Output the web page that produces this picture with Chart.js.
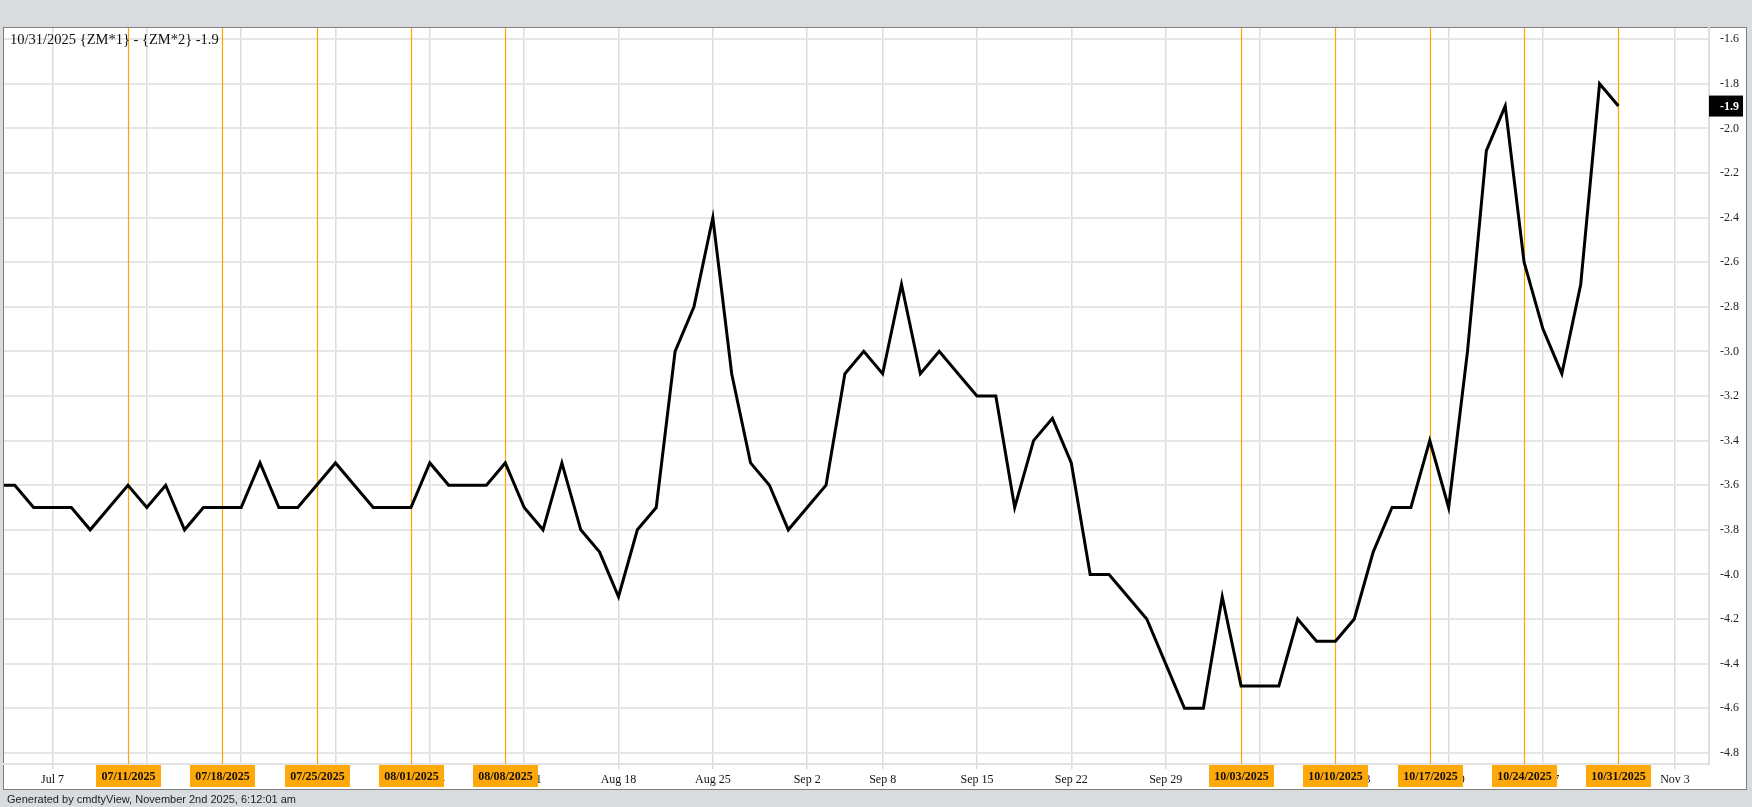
<!DOCTYPE html>
<html>
<head>
<meta charset="utf-8">
<script src="https://cdn.jsdelivr.net/npm/chart.js@4.4.1/dist/chart.umd.min.js"></script>
<style>
    html, body { margin: 0; padding: 0; background: #d9dcdf; }
    canvas { display: block; }
</style>
</head>
<body>
<canvas id="spread-chart" width="1752" height="807"></canvas>
<script>
// trading days, Jul 1 .. Oct 31 2025
const dates = [
    '2025-07-01', '2025-07-02', '2025-07-03', '2025-07-07', '2025-07-08', '2025-07-09', '2025-07-10', '2025-07-11',
    '2025-07-14', '2025-07-15', '2025-07-16', '2025-07-17', '2025-07-18', '2025-07-21', '2025-07-22', '2025-07-23',
    '2025-07-24', '2025-07-25', '2025-07-28', '2025-07-29', '2025-07-30', '2025-07-31',
    '2025-08-01', '2025-08-04', '2025-08-05', '2025-08-06', '2025-08-07', '2025-08-08', '2025-08-11', '2025-08-12',
    '2025-08-13', '2025-08-14', '2025-08-15', '2025-08-18', '2025-08-19', '2025-08-20', '2025-08-21', '2025-08-22',
    '2025-08-25', '2025-08-26', '2025-08-27', '2025-08-28', '2025-08-29',
    '2025-09-02', '2025-09-03', '2025-09-04', '2025-09-05', '2025-09-08', '2025-09-09', '2025-09-10', '2025-09-11',
    '2025-09-12', '2025-09-15', '2025-09-16', '2025-09-17', '2025-09-18', '2025-09-19', '2025-09-22', '2025-09-23',
    '2025-09-24', '2025-09-25', '2025-09-26', '2025-09-29', '2025-09-30',
    '2025-10-01', '2025-10-02', '2025-10-03', '2025-10-06', '2025-10-07', '2025-10-08', '2025-10-09', '2025-10-10',
    '2025-10-13', '2025-10-14', '2025-10-15', '2025-10-16', '2025-10-17', '2025-10-20', '2025-10-21', '2025-10-22',
    '2025-10-23', '2025-10-24', '2025-10-27', '2025-10-28', '2025-10-29', '2025-10-30', '2025-10-31'
];

const spreadValues = [
    -3.6, -3.6, -3.7, -3.7, -3.7, -3.8, -3.7, -3.6,
    -3.7, -3.6, -3.8, -3.7, -3.7, -3.7, -3.5, -3.7,
    -3.7, -3.6, -3.5, -3.6, -3.7, -3.7,
    -3.7, -3.5, -3.6, -3.6, -3.6, -3.5, -3.7, -3.8,
    -3.5, -3.8, -3.9, -4.1, -3.8, -3.7, -3.0, -2.8,
    -2.4, -3.1, -3.5, -3.6, -3.8,
    -3.7, -3.6, -3.1, -3.0, -3.1, -2.7, -3.1, -3.0,
    -3.1, -3.2, -3.2, -3.7, -3.4, -3.3, -3.5, -4.0,
    -4.0, -4.1, -4.2, -4.4, -4.6,
    -4.6, -4.1, -4.5, -4.5, -4.5, -4.2, -4.3, -4.3,
    -4.2, -3.9, -3.7, -3.7, -3.4, -3.7, -3.0, -2.1,
    -1.9, -2.6, -2.9, -3.1, -2.7, -1.8, -1.9
];

// weekly axis labels, positioned on the trading-day index (Nov 3 lies past the data)
const tickIndex = [3, 8, 13, 18, 23, 28, 33, 38, 43, 47, 52, 57, 62, 67, 72, 77, 82, 89];
const tickLabels = ['Jul 7', 'Jul 14', 'Jul 21', 'Jul 28', 'Aug 4', 'Aug 11', 'Aug 18', 'Aug 25', 'Sep 2',
    'Sep 8', 'Sep 15', 'Sep 22', 'Sep 29', 'Oct 6', 'Oct 13', 'Oct 20', 'Oct 27', 'Nov 3'];

const markerDates = ['2025-07-11', '2025-07-18', '2025-07-25', '2025-08-01', '2025-08-08',
    '2025-10-03', '2025-10-10', '2025-10-17', '2025-10-24', '2025-10-31'];
const markerLabels = ['07/11/2025', '07/18/2025', '07/25/2025', '08/01/2025', '08/08/2025',
    '10/03/2025', '10/10/2025', '10/17/2025', '10/24/2025', '10/31/2025'];

const chartTitle = '10/31/2025 {ZM*1} - {ZM*2} -1.9';
const footerText = 'Generated by cmdtyView, November 2nd 2025, 6:12:01 am';

const SERIF = "'Liberation Serif', 'Times New Roman', serif";

const framePlugin = {
    id: 'frame',
    beforeDraw(chart) {
        const ctx = chart.ctx;
        ctx.save();
        ctx.fillStyle = '#d9dcdf';
        ctx.fillRect(0, 0, chart.width, chart.height);
        ctx.fillStyle = '#ffffff';
        ctx.fillRect(3, 27, 1744, 763);
        ctx.strokeStyle = '#7f7f7f';
        ctx.lineWidth = 1;
        ctx.strokeRect(3.5, 27.5, 1743, 762);
        ctx.restore();
    },
    beforeDatasetsDraw(chart) {
        const ctx = chart.ctx;
        const area = chart.chartArea;
        ctx.save();
        ctx.strokeStyle = '#ffa500';
        ctx.lineWidth = 1.2;
        markerDates.forEach(d => {
            const x = Math.round(chart.scales.x.getPixelForValue(dates.indexOf(d))) + 0.5;
            ctx.beginPath();
            ctx.moveTo(x, area.top);
            ctx.lineTo(x, area.bottom);
            ctx.stroke();
        });
        ctx.restore();
    },
    afterDraw(chart) {
        const ctx = chart.ctx;
        const area = chart.chartArea;
        ctx.save();

        // date flags on the x axis
        ctx.font = 'bold 12px ' + SERIF;
        ctx.textAlign = 'center';
        ctx.textBaseline = 'middle';
        markerDates.forEach((d, i) => {
            const x = Math.round(chart.scales.x.getPixelForValue(dates.indexOf(d)));
            ctx.fillStyle = '#ffa80a';
            ctx.fillRect(x - 32, area.bottom + 1, 65, 22);
            ctx.fillStyle = '#111111';
            ctx.fillText(markerLabels[i], x + 0.5, area.bottom + 12.5);
        });

        // last value box
        const last = spreadValues[spreadValues.length - 1];
        const y = chart.scales.y.getPixelForValue(last);
        ctx.fillStyle = '#000000';
        ctx.fillRect(area.right, y - 10.5, 34, 21);
        ctx.fillStyle = '#ffffff';
        ctx.textAlign = 'left';
        ctx.fillText(last.toFixed(1), area.right + 11, y + 0.5);

        // title
        ctx.font = '14.5px ' + SERIF;
        ctx.fillStyle = '#111111';
        ctx.fillText(chartTitle, 10, 40);

        // footer
        ctx.font = "11px 'Liberation Sans', Arial, sans-serif";
        ctx.fillStyle = '#222222';
        ctx.fillText(footerText, 7, 800);
        ctx.restore();
    }
};

function renderSpreadChart() {
    new Chart(document.getElementById('spread-chart'), {
        type: 'line',
        data: {
            datasets: [{
                label: 'ZM*1 - ZM*2',
                data: spreadValues.map((v, i) => ({x: i, y: v})),
                borderColor: '#000000',
                borderWidth: 3,
                pointRadius: 0,
                tension: 0,
                clip: 0
            }]
        },
        options: {
            responsive: false,
            animation: false,
            events: [],
            layout: {
                padding: {left: 4, top: 28, right: 5, bottom: 17}
            },
            plugins: {
                legend: {display: false},
                tooltip: {enabled: false}
            },
            scales: {
                x: {
                    type: 'linear',
                    min: 0.43,
                    max: 90.8,
                    afterFit: scale => { scale.height = 26; },
                    afterBuildTicks: scale => {
                        scale.ticks = tickIndex.map(v => ({value: v}));
                    },
                    grid: {
                        color: '#dcdcdc',
                        lineWidth: 1.5,
                        drawTicks: true,
                        tickLength: 5
                    },
                    border: {color: '#e2e2e2', width: 2},
                    ticks: {
                        autoSkip: false,
                        maxRotation: 0,
                        padding: 4,
                        color: '#111111',
                        font: {family: SERIF, size: 12},
                        callback: value => tickLabels[tickIndex.indexOf(value)]
                    }
                },
                y: {
                    position: 'right',
                    min: -4.85,
                    max: -1.55,
                    afterFit: scale => { scale.width = 38; },
                    grid: {
                        color: '#e6e6e6',
                        lineWidth: 2,
                        drawTicks: false
                    },
                    border: {color: '#dedede', width: 2},
                    ticks: {
                        stepSize: 0.2,
                        includeBounds: false,
                        padding: 11,
                        color: '#222222',
                        font: {family: SERIF, size: 12},
                        callback: value => value.toFixed(1)
                    }
                }
            }
        },
        plugins: [framePlugin]
    });
}

window.onload = renderSpreadChart;
</script>
</body>
</html>
